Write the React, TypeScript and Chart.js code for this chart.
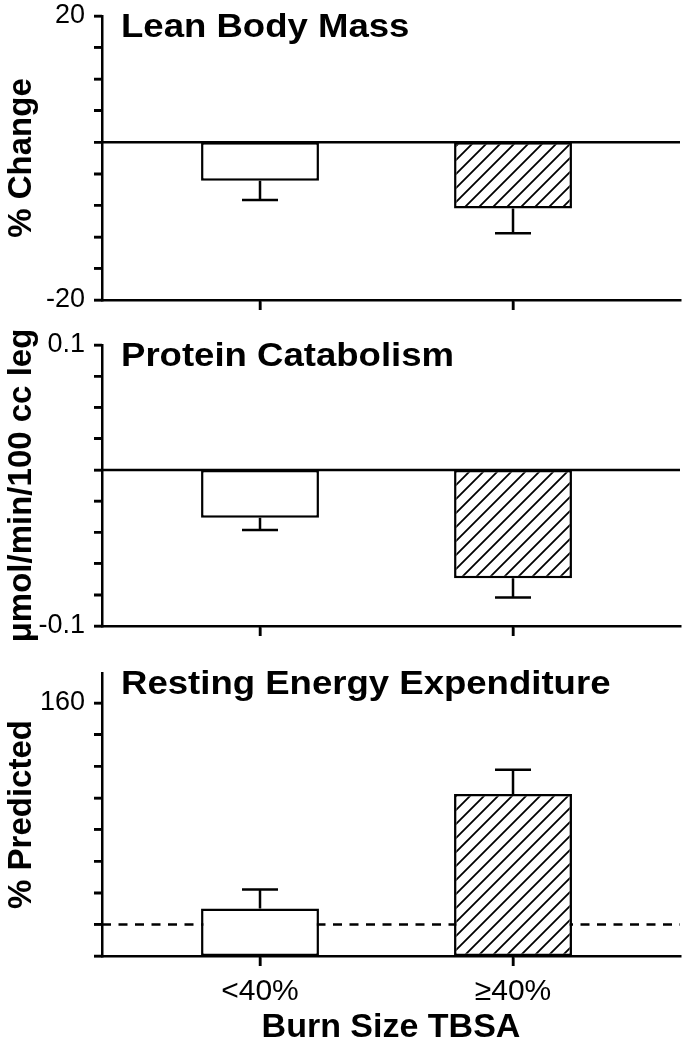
import React, { useEffect, useRef } from 'react';
import { Chart, registerables } from 'chart.js';

Chart.register(...registerables);

// ---------------- data ----------------
const CATEGORIES = ['<40%', '≥40%'];
const X_TITLE = 'Burn Size TBSA';

const LBM_TITLE = 'Lean Body Mass';
const LBM_Y_TITLE = '% Change';
const LBM_REF = 2.22;
const LBM_MEAN = [-3.2, -7.1];
const LBM_SEM = [2.7, 3.5];
const LBM_TICKS = [-20, -15.56, -11.11, -6.67, -2.22, 2.22, 6.67, 11.11, 15.56, 20];
const LBM_TICK_LABELS = ['-20', '', '', '', '', '', '', '', '', '20'];

const PC_TITLE = 'Protein Catabolism';
const PC_Y_TITLE = 'μmol/min/100 cc leg';
const PC_REF = 0.0111;
const PC_MEAN = [-0.023, -0.066];
const PC_SEM = [0.0087, 0.0138];
const PC_TICKS = [-0.1, -0.0778, -0.0556, -0.0333, -0.0111, 0.0111, 0.0333, 0.0556, 0.0778, 0.1];
const PC_TICK_LABELS = ['-0.1', '', '', '', '', '', '', '', '', '0.1'];

const REE_TITLE = 'Resting Energy Expenditure';
const REE_Y_TITLE = '% Predicted';
const REE_BASE = 80;
const REE_REF = 90;
const REE_MEAN = [95, 131.2];
const REE_SEM = [6, 7.7];
const REE_TICKS = [80, 90, 100, 110, 120, 130, 140, 150, 160];
const REE_TICK_LABELS = ['', '', '', '', '', '', '', '', '160'];

// ---------------- styling / layout ----------------
const FONT = "'Liberation Sans', Arial, Helvetica, sans-serif";
Chart.defaults.font.family = FONT;
Chart.defaults.color = '#000';

type PanelCfg = {
  title: string;
  yTitle: string;
  base: number;
  ref: number;
  dash: number[];
  mean: number[];
  sem: number[];
  ticks: number[];
  tickLabels: string[];
  yMin: number;
  yMax: number;
  showX: boolean;
  top: number;
  h: number;
  padTop: number;
  xH: number;
};

const PANELS: PanelCfg[] = [
  {
    title: LBM_TITLE, yTitle: LBM_Y_TITLE, base: LBM_REF, ref: LBM_REF, dash: [],
    mean: LBM_MEAN, sem: LBM_SEM, ticks: LBM_TICKS, tickLabels: LBM_TICK_LABELS,
    yMin: -20, yMax: 20, showX: false, top: 0, h: 325, padTop: 16, xH: 25,
  },
  {
    title: PC_TITLE, yTitle: PC_Y_TITLE, base: PC_REF, ref: PC_REF, dash: [],
    mean: PC_MEAN, sem: PC_SEM, ticks: PC_TICKS, tickLabels: PC_TICK_LABELS,
    yMin: -0.1, yMax: 0.1, showX: false, top: 325, h: 325, padTop: 20, xH: 24,
  },
  {
    title: REE_TITLE, yTitle: REE_Y_TITLE, base: REE_BASE, ref: REE_REF, dash: [9, 7.5],
    mean: REE_MEAN, sem: REE_SEM, ticks: REE_TICKS, tickLabels: REE_TICK_LABELS,
    yMin: 80, yMax: 169.5, showX: true, top: 650, h: 400, padTop: 23, xH: 94,
  },
];

const Y_TICK_LEN = 8;
const X_TICK_LEN = 10;
const LW = 2.5;

function makeHatch(): CanvasPattern | string {
  const s = 14;
  const c = document.createElement('canvas');
  c.width = s;
  c.height = s;
  const g = c.getContext('2d');
  if (!g) return '#fff';
  g.fillStyle = '#fff';
  g.fillRect(0, 0, s, s);
  g.strokeStyle = '#000';
  g.lineWidth = 1.8;
  g.beginPath();
  g.moveTo(-2, s + 2);
  g.lineTo(s + 2, -2);
  g.moveTo(-2, 2);
  g.lineTo(2, -2);
  g.moveTo(s - 2, s + 2);
  g.lineTo(s + 2, s - 2);
  g.stroke();
  return g.createPattern(c, 'repeat') || '#fff';
}

function Panel({ cfg }: { cfg: PanelCfg }) {
  const ref = useRef<HTMLCanvasElement>(null);

  useEffect(() => {
    const canvas = ref.current;
    if (!canvas) return;
    const hatch = makeHatch();

    const decor = {
      id: 'panelDecor',
      beforeDatasetsDraw(chart: any) {
        const { ctx, chartArea, scales } = chart;
        const py = scales.y.getPixelForValue(cfg.ref);
        ctx.save();
        ctx.strokeStyle = '#000';
        ctx.lineWidth = LW;
        ctx.setLineDash(cfg.dash);
        ctx.beginPath();
        ctx.moveTo(chartArea.left, py);
        ctx.lineTo(chartArea.right, py);
        ctx.stroke();
        ctx.restore();
      },
      afterDatasetsDraw(chart: any) {
        const { ctx, scales } = chart;
        const meta = chart.getDatasetMeta(0);
        ctx.save();
        ctx.strokeStyle = '#000';
        ctx.lineWidth = LW;
        meta.data.forEach((bar: any, i: number) => {
          const m = cfg.mean[i];
          const dir = m >= cfg.base ? 1 : -1;
          const y0 = scales.y.getPixelForValue(m);
          const y1 = scales.y.getPixelForValue(m + dir * cfg.sem[i]);
          ctx.beginPath();
          ctx.moveTo(bar.x, y0);
          ctx.lineTo(bar.x, y1);
          ctx.moveTo(bar.x - 18, y1);
          ctx.lineTo(bar.x + 18, y1);
          ctx.stroke();
        });
        ctx.restore();
      },
      afterDraw(chart: any) {
        const { ctx, chartArea, scales } = chart;
        // tick marks
        ctx.save();
        ctx.strokeStyle = '#000';
        ctx.lineWidth = LW;
        ctx.beginPath();
        cfg.ticks.forEach((v) => {
          const py = scales.y.getPixelForValue(v);
          ctx.moveTo(chartArea.left - Y_TICK_LEN, py);
          ctx.lineTo(chartArea.left, py);
        });
        CATEGORIES.forEach((_, i) => {
          const px = scales.x.getPixelForValue(i + 1);
          ctx.moveTo(px, chartArea.bottom);
          ctx.lineTo(px, chartArea.bottom + X_TICK_LEN);
        });
        ctx.stroke();
        ctx.restore();

        // panel title
        ctx.save();
        ctx.font = `bold 34px ${FONT}`;
        ctx.fillStyle = '#000';
        ctx.textAlign = 'left';
        ctx.textBaseline = 'alphabetic';
        ctx.translate(chartArea.left + 19, chartArea.top + 21);
        ctx.scale(1.075, 1);
        ctx.fillText(cfg.title, 0, 0);
        ctx.restore();
      },
    };

    const chart = new Chart(canvas, {
      type: 'bar',
      data: {
        datasets: [
          {
            data: CATEGORIES.map((_, i) => ({ x: i + 1, y: [cfg.base, cfg.mean[i]] })) as any,
            backgroundColor: ['#ffffff', hatch as any],
            borderColor: '#000',
            borderWidth: LW,
            borderSkipped: false,
            barPercentage: 0.466,
            categoryPercentage: 1,
          },
        ],
      },
      options: {
        animation: false,
        responsive: false,
        devicePixelRatio: window.devicePixelRatio || 1,
        layout: { padding: { top: cfg.padTop, right: 3, bottom: 0, left: 0 } },
        plugins: {
          legend: { display: false },
          tooltip: { enabled: false },
        },
        scales: {
          x: {
            type: 'linear',
            min: 0.3755,
            max: 2.66,
            offset: false,
            afterBuildTicks: (s: any) => {
              s.ticks = CATEGORIES.map((_, i) => ({ value: i + 1 }));
            },
            afterFit: (s: any) => {
              s.height = cfg.xH;
              s.paddingLeft = 0;
              s.paddingRight = 0;
            },
            grid: {
              display: true,
              drawOnChartArea: false,
              drawTicks: true,
              tickLength: X_TICK_LEN,
              lineWidth: LW,
              color: '#000',
              offset: false,
            },
            border: { display: true, width: LW, color: '#000' },
            ticks: {
              display: cfg.showX,
              padding: 8,
              autoSkip: false,
              maxRotation: 0,
              color: '#000',
              font: { size: 30 },
              callback: (v: any) => CATEGORIES[Math.round(Number(v)) - 1] ?? '',
            },
            title: {
              display: cfg.showX,
              text: X_TITLE,
              color: '#000',
              font: { size: 34, weight: 'bold' },
              padding: { top: 0, bottom: 2 },
            },
          } as any,
          y: {
            type: 'linear',
            min: cfg.yMin,
            max: cfg.yMax,
            afterBuildTicks: (s: any) => {
              s.ticks = cfg.ticks.map((v) => ({ value: v }));
            },
            afterFit: (s: any) => {
              s.width = 102;
              s.paddingTop = 0;
              s.paddingBottom = 0;
            },
            grid: {
              drawOnChartArea: false,
              drawTicks: true,
              tickLength: Y_TICK_LEN,
              lineWidth: LW,
              color: '#000',
            },
            border: { display: true, width: LW, color: '#000' },
            ticks: {
              padding: 9,
              autoSkip: false,
              color: '#000',
              font: { size: 27, lineHeight: 1 },
              callback: (_v: any, i: number) => cfg.tickLabels[i] ?? '',
            },
            title: {
              display: true,
              text: cfg.yTitle,
              color: '#000',
              font: { size: 33, weight: 'bold' },
              padding: { top: 2, bottom: 0 },
            },
          } as any,
        },
      },
      plugins: [decor as any],
    });

    return () => chart.destroy();
  }, [cfg]);

  return (
    <canvas
      ref={ref}
      width={683}
      height={cfg.h}
      style={{ position: 'absolute', left: 0, top: cfg.top, width: 683, height: cfg.h }}
    />
  );
}

export default function App() {
  return (
    <div
      style={{
        position: 'absolute',
        left: 0,
        top: 0,
        width: 683,
        height: 1050,
        background: '#fff',
        overflow: 'hidden',
      }}
    >
      {PANELS.map((p, i) => (
        <Panel key={i} cfg={p} />
      ))}
    </div>
  );
}
